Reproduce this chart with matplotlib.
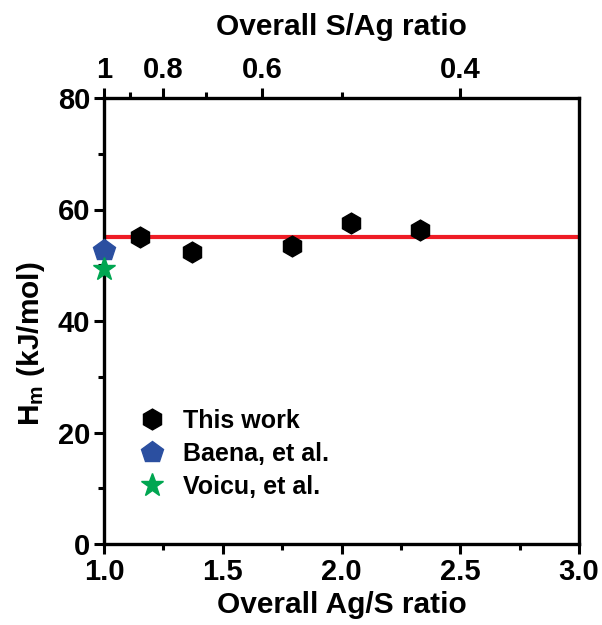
import numpy as np
import matplotlib
matplotlib.use('Agg')
import matplotlib.pyplot as plt

plt.rcParams['font.family'] = ['Liberation Sans', 'DejaVu Sans']
plt.rcParams['font.weight'] = 'bold'
plt.rcParams['mathtext.fontset'] = 'custom'
plt.rcParams['mathtext.rm'] = 'Liberation Sans:bold'
plt.rcParams['mathtext.it'] = 'Liberation Sans:bold'
plt.rcParams['mathtext.bf'] = 'Liberation Sans:bold'

# data
this_x = [1.15, 1.37, 1.79, 2.04, 2.33]
this_y = [55.1, 52.4, 53.5, 57.5, 56.3]
baena_x = [1.0]
baena_y = [52.7]
voicu_x = [1.0]
voicu_y = [49.3]
mean_h = 55.0

top_ticks = [1, 0.8, 0.6, 0.4]
top_labels = ['1', '0.8', '0.6', '0.4']
top_minor = [0.9, 0.7, 0.5]

fig = plt.figure(figsize=(6.02, 6.25), dpi=100)
ax = fig.add_axes([0.1728, 0.1296, 0.789, 0.7136])

ax.plot([1.0, 3.0], [mean_h, mean_h], color='#ee1c25', lw=3, zorder=2)
ax.plot(this_x, this_y, 'h', color='black', ms=15, ls='none', label='This work', zorder=3)
ax.plot(baena_x, baena_y, 'p', color='#2b4fa0', ms=16, ls='none', label='Baena, et al.', clip_on=False, zorder=4)
ax.plot(voicu_x, voicu_y, '*', color='#00a651', ms=17, ls='none', label='Voicu, et al.', clip_on=False, zorder=5)

ax.set_xlim(1.0, 3.0)
ax.set_ylim(0, 80)
ax.set_xticks([1.0, 1.5, 2.0, 2.5, 3.0])
ax.set_xticks([1.25, 1.75, 2.25, 2.75], minor=True)
ax.set_yticks([0, 20, 40, 60, 80])
ax.set_yticks([10, 30, 50, 70], minor=True)
ax.set_xticklabels(['1.0', '1.5', '2.0', '2.5', '3.0'])

for s in ax.spines.values():
    s.set_linewidth(2.4)
ax.spines['top'].set_visible(False)
ax.tick_params(axis='both', which='major', length=7, width=2.2, labelsize=21, pad=3)
ax.tick_params(axis='both', which='minor', length=4, width=2.2)
ax.tick_params(axis='x', top=False, right=False)

ax.set_xlabel('Overall Ag/S ratio', fontsize=21.5, fontweight='bold', labelpad=4)
ax.set_ylabel(r'H$_{\mathrm{m}}$ (kJ/mol)', fontsize=21.5, fontweight='bold')
ax.yaxis.set_label_coords(-0.12, 0.45)

sec = ax.secondary_xaxis('top', functions=(lambda x: 1 / x, lambda x: 1 / x))
sec.set_xticks(top_ticks)
sec.set_xticklabels(top_labels)
sec.set_xticks(top_minor, minor=True)
sec.spines['top'].set_linewidth(2.4)
sec.tick_params(which='major', length=7, width=2.2, labelsize=21, pad=3)
sec.tick_params(which='minor', length=4, width=2.2)
sec.set_xlabel('Overall S/Ag ratio', fontsize=21.5, fontweight='bold', labelpad=15)

ax.legend(loc='lower left', bbox_to_anchor=(0.037, 0.079), frameon=False,
          fontsize=18, handletextpad=0.45, labelspacing=0.36, borderaxespad=0,
          handlelength=1.6)

fig.savefig('out.png', dpi=100)
